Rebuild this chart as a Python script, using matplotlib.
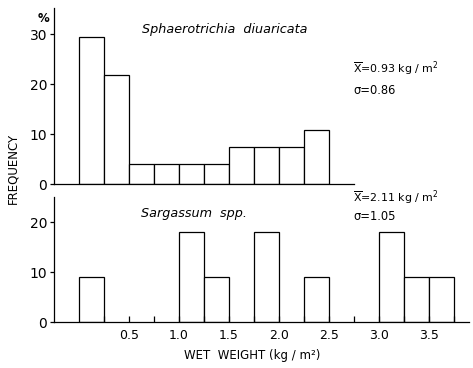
import matplotlib.pyplot as plt
import numpy as np

plt.rcParams['font.family'] = ['DejaVu Sans']

# bins of 0.25 kg/m2, left edges
bin_w = 0.25
top_lefts = [0.0, 0.25, 0.5, 0.75, 1.0, 1.25, 1.5, 1.75, 2.0, 2.25]
top_freq = [29.4, 21.9, 4.0, 4.0, 4.0, 4.0, 7.4, 7.4, 7.4, 10.9]

bot_lefts = [0.0, 1.0, 1.25, 1.75, 2.25, 3.0, 3.25, 3.5]
bot_freq = [9.0, 18.0, 9.0, 18.0, 9.0, 18.0, 9.0, 9.0]

x_ticks = [0.5, 1.0, 1.5, 2.0, 2.5, 3.0, 3.5]
x_ticklabels = ['0.5', '1.0', '1.5', '2.0', '2.5', '3.0', '3.5']

fig = plt.figure(figsize=(4.73, 3.68), dpi=100)
W, H = 473, 368

def px_axes(x0, y_bottom, y_top, x1=469):
    return fig.add_axes([x0 / W, 1 - y_bottom / H, (x1 - x0) / W, (y_bottom - y_top) / H])

lw = 0.9

# --- panneau du haut : Sphaerotrichia
ax1 = px_axes(54, 184, 8)
ax1.bar(top_lefts, top_freq, width=bin_w, align='edge', facecolor='white',
        edgecolor='black', linewidth=lw)
ax1.set_xlim(-0.25, 3.9)
ax1.set_ylim(0, 35.2)
ax1.spines[['top', 'right']].set_visible(False)
ax1.spines['bottom'].set_bounds(-0.25, 2.75)
for s in ['left', 'bottom']:
    ax1.spines[s].set_linewidth(lw)
ax1.set_xticks([])
ax1.set_yticks([0, 10, 20, 30])
ax1.tick_params(axis='y', direction='out', length=3, width=lw, labelsize=10, pad=2)
ax1.text(-0.36, 33.0, '%', fontsize=8.5, ha='center', va='center', fontweight='bold')
ax1.text(0.63, 30.8, 'Sphaerotrichia  diuaricata', fontsize=9.2, style='italic',
         ha='left', va='center')
ax1.text(2.74, 23.2, r'$\overline{\mathregular{X}}$=0.93 kg / m$^\mathregular{2}$',
         fontsize=7.9, ha='left', va='center')
ax1.text(2.74, 18.8, '\u03c3=0.86', fontsize=8.3, ha='left', va='center')

# --- panneau du bas : Sargassum
ax2 = px_axes(54, 322, 197)
ax2.bar(bot_lefts, bot_freq, width=bin_w, align='edge', facecolor='white',
        edgecolor='black', linewidth=lw)
ax2.set_xlim(-0.25, 3.9)
ax2.set_ylim(0, 25)
ax2.spines[['top', 'right']].set_visible(False)
for s in ['left', 'bottom']:
    ax2.spines[s].set_linewidth(lw)
ax2.set_yticks([0, 10, 20])
ax2.tick_params(axis='y', direction='out', length=3, width=lw, labelsize=10, pad=2)
ax2.set_xticks(x_ticks)
ax2.set_xticklabels(x_ticklabels)
ax2.set_xticks(np.arange(0.25, 3.8, 0.25), minor=True)
ax2.tick_params(axis='x', which='both', direction='in', length=4, width=lw,
                labelsize=9, pad=5)
ax2.text(0.62, 21.8, 'Sargassum  spp.', fontsize=9.2, style='italic',
         ha='left', va='center')
ax2.text(2.74, 25.0, r'$\overline{\mathregular{X}}$=2.11 kg / m$^\mathregular{2}$',
         fontsize=7.9, ha='left', va='center')
ax2.text(2.74, 21.0, '\u03c3=1.05', fontsize=8.3, ha='left', va='center')

fig.text(252 / W, 1 - 356 / H, 'WET  WEIGHT (kg / m\u00b2)', fontsize=8.5,
         ha='center', va='center')
fig.text(13 / W, 1 - 168 / H, 'FREQUENCY', fontsize=8.5, rotation=90,
         ha='center', va='center')

fig.savefig('out.png', dpi=100)
